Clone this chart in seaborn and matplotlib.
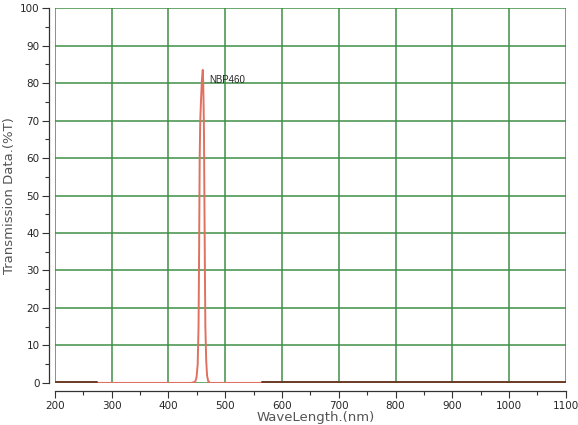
import numpy as np
import pandas as pd
import matplotlib
matplotlib.use('Agg')
import matplotlib.pyplot as plt
import seaborn as sns
from matplotlib.ticker import MultipleLocator

# transmission curve of the filter
wavelength = [275, 440, 447, 449.5, 451.5, 453, 454, 455, 456, 457.5, 459,
              460.5, 461.2, 461.8, 462.5, 463.3, 464.2, 465, 466.5, 468, 470, 473, 565]
transmission = [0, 0, 0.3, 1.5, 5, 15, 35, 60, 70, 76, 81,
                83.5, 80, 75, 68, 50, 30, 15, 6, 2, 0.5, 0, 0]

# dark baseline pieces outside the measured range
base_left_wl = [200, 275]
base_right_wl = [565, 1100]
base_level = [0.3, 0.3]

peak_label = 'NBP460'

sns.set_style('white')
plt.rcParams['font.family'] = ['Liberation Sans Narrow', 'DejaVu Sans']

fig, ax = plt.subplots(figsize=(5.78, 4.25), dpi=100)
fig.subplots_adjust(left=0.095, right=0.979, top=0.981, bottom=0.099)

df = pd.DataFrame({'wl': wavelength, 't': transmission})
sns.lineplot(data=df, x='wl', y='t', ax=ax, color='#e0705f', linewidth=1.4)
sns.lineplot(x=base_left_wl, y=base_level, ax=ax, color='#6e3b25', linewidth=1.4)
sns.lineplot(x=base_right_wl, y=base_level, ax=ax, color='#6e3b25', linewidth=1.4)

ax.text(471, 80.8, peak_label, fontsize=7, va='center', ha='left',
        family=['Liberation Sans', 'DejaVu Sans'])

ax.set_xlim(200, 1100)
ax.set_ylim(0, 100)
ax.xaxis.set_major_locator(MultipleLocator(100))
ax.xaxis.set_minor_locator(MultipleLocator(50))
ax.yaxis.set_major_locator(MultipleLocator(10))
ax.yaxis.set_minor_locator(MultipleLocator(5))

ax.grid(True, which='major', color='#3f8f45', linewidth=1.1)
ax.set_axisbelow(True)
ax.tick_params(which='major', length=5, width=0.8, color='#333333',
               labelsize=7.5, direction='out', bottom=True, left=True, pad=2)
ax.tick_params(which='minor', length=3, width=0.8, color='#333333',
               direction='out', bottom=True, left=True)

sns.despine(ax=ax, top=True, right=True)
ax.spines['left'].set_position(('outward', 4))
ax.spines['bottom'].set_position(('outward', 6))
for s in ['left', 'bottom']:
    ax.spines[s].set_color('#333333')
    ax.spines[s].set_linewidth(0.9)

ax.set_xlabel('WaveLength.(nm)', fontsize=9.5, color='#555555',
              family=['DejaVu Sans'], va='center')
ax.set_ylabel('Transmission Data.(%T)', fontsize=9.5, color='#555555',
              family=['DejaVu Sans'], va='center')
ax.xaxis.set_label_coords(0.51, -0.091)
ax.yaxis.set_label_coords(-0.089, 0.5)

fig.savefig('out.png', dpi=100)
